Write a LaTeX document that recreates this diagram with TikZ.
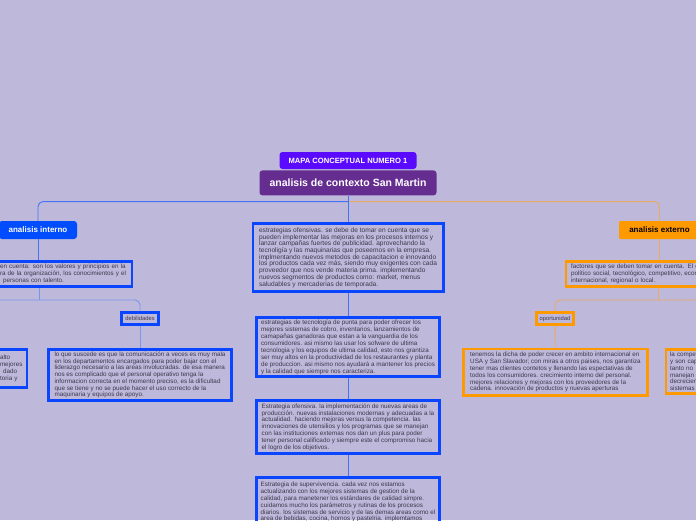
\documentclass[tikz,border=0pt]{standalone}
\usepackage{fontspec}
\setmainfont{Liberation Sans}
\usepackage{xcolor}
\usepackage{tikz}
\usetikzlibrary{positioning}
\definecolor{colBg}{RGB}{190,185,218}
\definecolor{colTitle}{RGB}{90,10,255}
\definecolor{colCtx}{RGB}{102,45,145}
\definecolor{colInt}{RGB}{0,76,255}
\definecolor{colExt}{RGB}{255,153,0}
\definecolor{colBlue}{RGB}{10,70,255}
\definecolor{colBlueLn}{RGB}{70,115,245}
\definecolor{colBlueLt}{RGB}{120,150,240}
\definecolor{colOrgLn}{RGB}{235,170,100}
\definecolor{colText}{RGB}{60,55,75}

\begin{document}
\begin{tikzpicture}[
  x=1pt, y=-1pt,
  node distance=21pt,
  content/.style={draw=#1, line width=2.7pt, font=\fontsize{6.3}{6.8}\selectfont, text=colText, align=left, inner ysep=1pt},
  tagbox/.style={draw=#1, line width=2.7pt, font=\fontsize{5.8}{6}\selectfont, text=colText,
                 minimum height=12.3pt, inner xsep=3.5pt, inner ysep=0pt},
  header/.style={fill=#1, rounded corners=3pt, text=white, inner sep=0pt},
  branch/.style={line width=0.9pt, draw=#1},
]
\useasboundingbox (0,0) rectangle (696,520);
\fill[colBg] (0,0) rectangle (696,520);

% ─── TITLES ───────────────────────────────────────────────────────────────────
\node[header=colTitle, minimum width=137pt, minimum height=17pt, font=\bfseries\fontsize{7.6}{8}\selectfont] (mapa) at (348,160.5) {MAPA CONCEPTUAL NUMERO 1};
\node[header=colCtx, minimum width=177pt, minimum height=25pt, font=\bfseries\fontsize{10.5}{12}\selectfont, below=1pt of mapa] (ctx) {analisis de contexto San Martin};

\node[header=colInt, minimum width=78pt, minimum height=18pt, font=\bfseries\fontsize{8}{9}\selectfont] (interno) at (38,230) {analisis interno};
\node[header=colExt, text=black, rounded corners=1pt, minimum width=81pt, minimum height=18pt, font=\bfseries\fontsize{8}{9}\selectfont] (externo) at (659.5,230) {analisis externo};

\coordinate[below=6pt of ctx] (hub);
\draw[branch=colBlueLn, rounded corners=5pt] (hub) -| (interno);
\draw[branch=colOrgLn, rounded corners=5pt] (hub) -| (externo);

% ─── ESTRATEGIAS (CENTRO) ─────────────────────────────────────────────────────
\node[content=colBlue, font=\fontsize{6.6}{6.7}\selectfont, minimum width=190.3pt, minimum height=68.3pt] (ofensiva) at (348,257.5) {estrategias ofensivas. se debe de tomar en cuenta que se\\
pueden implementar las mejoras en los procesos internos y\\
lanzar campañas fuertes de publicidad. aprovechando la\\
tecnoligía y las maquinarias que poseemos en la empresa.\\
implmentando nuevos metodos de capacitacion e innovando\\
los productos cada vez más, siendo muy exigentes con cada\\
proveedor que nos vende materia prima. implementando\\
nuevos segmentos de productos como: market, menus\\
saludables y mercaderias de temporada.};
\node[content=colBlue, font=\fontsize{6.3}{7}\selectfont, minimum width=183.3pt, minimum height=59.3pt, below=23pt of ofensiva] (tecnologia) {estrategias de tecnología de punta para poder ofrecer los\\
mejores sistemas de cobro, inventarios, lanzamientos de\\
camapañas ganadoras que estan a la vanguardia de los\\
consumidores. asi mismo las usar los sofware de ultima\\
tecnologia y los equipos de ultima calidad, esto nos grantiza\\
ser muy altos en la productividad de los restaurantes y planta\\
de produccion. asi mismo nos ayudará a mantener los precios\\
y la calidad que siempre nos caracteriza.};
\node[content=colBlue, minimum width=183.3pt, minimum height=53.3pt, below=of tecnologia] (nuevas) {Estrategia ofensiva. la implementación de nuevas areas de\\
producción. nuevas instalaciones modernas y adecuadas a la\\
actualidad. haciendo mejoras versus la competencia. las\\
innovaciones de utensilios y los programas que se manejan\\
con las instituciones externas nos dan un plus para poder\\
tener personal calificado y siempre este el compromiso hacia\\
el logro de los objetivos.};
\node[content=colBlue, minimum width=183.3pt, inner ysep=5pt, below=of nuevas] (superv) {Estrategia de supervivencia. cada vez nos estamos\\
actualizando con los mejores sistemas de gestion de la\\
calidad, para manetener los estándares de calidad simpre.\\
cuidamos mucho los parámetros y rutinas de los procesos\\
diarios. los sistemas de servicio y de las demas areas como el\\
area de bebidas, cocina, hornos y pastelria. implemtamos};

\draw[branch=colBlueLn] (ctx) -- (ofensiva);
\draw[branch=colBlueLn] (ofensiva) -- (tecnologia);
\draw[branch=colBlueLn] (tecnologia) -- (nuevas);
\draw[branch=colBlueLn] (nuevas) -- (superv);

% ─── ANALISIS INTERNO ─────────────────────────────────────────────────────────
\node[content=colBlue, text width=130pt, inner xsep=2pt, minimum height=25.3pt] (fortalezas) at (65,274) {en cuenta: son los valores y principios en la\\
ra de la organización, los conocimientos y el\\
\hspace*{3pt}personas con talento.};
\draw[branch=colBlueLn] (interno) -- (interno |- fortalezas.north);

\node[tagbox=colBlue] (debil) at (140,318.5) {debilidades};
\node[content=colBlue, font=\fontsize{6.3}{6.7}\selectfont, minimum width=183.3pt, minimum height=51.6pt] (debiltext) at (140,375) {lo que suscede es que la comunicación a veces es muy mala\\
en los departamentos encargados para poder bajar con el\\
liderazgo necesario a las areas involucradas. de esa manera\\
nos es complicado que el personal operativo tenga la\\
informacion correcta en el momento preciso, es la dificultad\\
que se tiene y no se puede hacer el uso correcto de la\\
maquinaria y equipos de apoyo.};
\node[content=colBlue, text width=24pt, inner xsep=3pt, minimum height=38.3pt] (fortext) at (12,368.5) {alto\\mejores\\\hspace*{3pt}dado\\toria y};

\coordinate (ljoin) at (39,300);
\coordinate (lstub) at (-10,300);
\draw[branch=colBlueLt] (fortalezas.south -| ljoin) -- (ljoin);
\draw[branch=colBlueLt, rounded corners=5pt] (lstub) -| (debil);
\draw[branch=colBlueLt] (debil) -- (debiltext);

% ─── ANALISIS EXTERNO ─────────────────────────────────────────────────────────
\node[content=colExt, text width=150pt, inner xsep=5pt, minimum height=25.3pt] (factores) at (646,274) {factores que se deben tomar en cuenta. El entorno\\
político social, tecnológico, competitivo, económico,\\
internacional, regional o local.};
\draw[branch=colOrgLn] (externo) -- (externo |- factores.north);

\node[tagbox=colExt] (oport) at (555,318.5) {oportunidad};
\node[content=colExt, minimum width=184.3pt, minimum height=46.3pt] (oporttext) at (555.5,372.2) {tenemos la dicha de poder crecer en ambito internacional en\\
USA y San Slavador; con miras a otros paises, nos garantiza\\
tener mas clientes contetos y llenando las espectativas de\\
todos los consumidores. crecimiento interno del personal.\\
mejores relaciones y mejoras con los proveedores de la\\
cadena. innovación de productos y nuevas aperturas};
\node[content=colExt, text width=60pt, inner xsep=4pt, minimum height=44.3pt] (amenaza) at (700,371.5) {la competencia\\y son capaces\\tanto no\\manejan\\decreciendo\\sistemas};

\coordinate (rjoin) at (658,300);
\coordinate (rstub) at (710,300);
\draw[branch=colOrgLn] (factores.south -| rjoin) -- (rjoin);
\draw[branch=colOrgLn, rounded corners=5pt] (rstub) -| (oport);
\draw[branch=colOrgLn] (oport) -- (oporttext);

\end{tikzpicture}
\end{document}
